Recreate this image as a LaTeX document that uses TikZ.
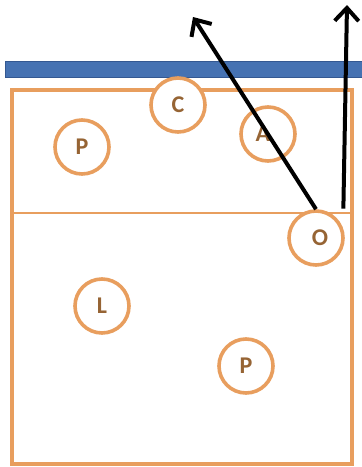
\documentclass[tikz,border=0pt]{standalone}
\usepackage{fontspec}
\setmainfont{Carlito}
\usetikzlibrary{arrows.meta}
\definecolor{courtorange}{RGB}{232,158,94}
\definecolor{lettercol}{RGB}{150,100,52}
\definecolor{netblue}{RGB}{70,114,178}
\definecolor{netedge}{RGB}{52,88,145}
\tikzset{
  player/.style={circle,draw=courtorange,line width=3.6pt,fill=white,minimum size=54pt,
    inner sep=0pt,text=lettercol,font=\fontsize{24}{28}\selectfont\bfseries},
  run/.style={line width=4pt,-{Straight Barb[length=13pt,width=24pt,line width=4pt]}}
}
\begin{document}
\begin{tikzpicture}[x=1pt,y=-1pt]
\useasboundingbox (0,0) rectangle (362,467);
% net
\draw[netedge,fill=netblue,line width=1pt] (5,61) rectangle (366,77);
% court and attack line
\draw[courtorange,line width=3.6pt] (12,90) rectangle (352,464);
\draw[courtorange,line width=1.4pt] (12,213) -- (352,213);
% players
\node[player] (p1) at (82,147) {P};
\node[player] (c) at (178,105) {C};
\node[player] (a) at (268,134) {A\phantom{L}};
\node[player] (o) at (316,238) {\hspace{8pt}O};
\node[player] (l) at (102,306) {L};
\node[player] (p2) at (246,366) {P};
% runs
\coordinate (t1) at (193,17);
\coordinate (t2) at (347,5);
\draw[run] (o.north) -- (t1);
\draw[run] (o.north east) ++(7,-9) -- (t2);
\end{tikzpicture}
\end{document}
